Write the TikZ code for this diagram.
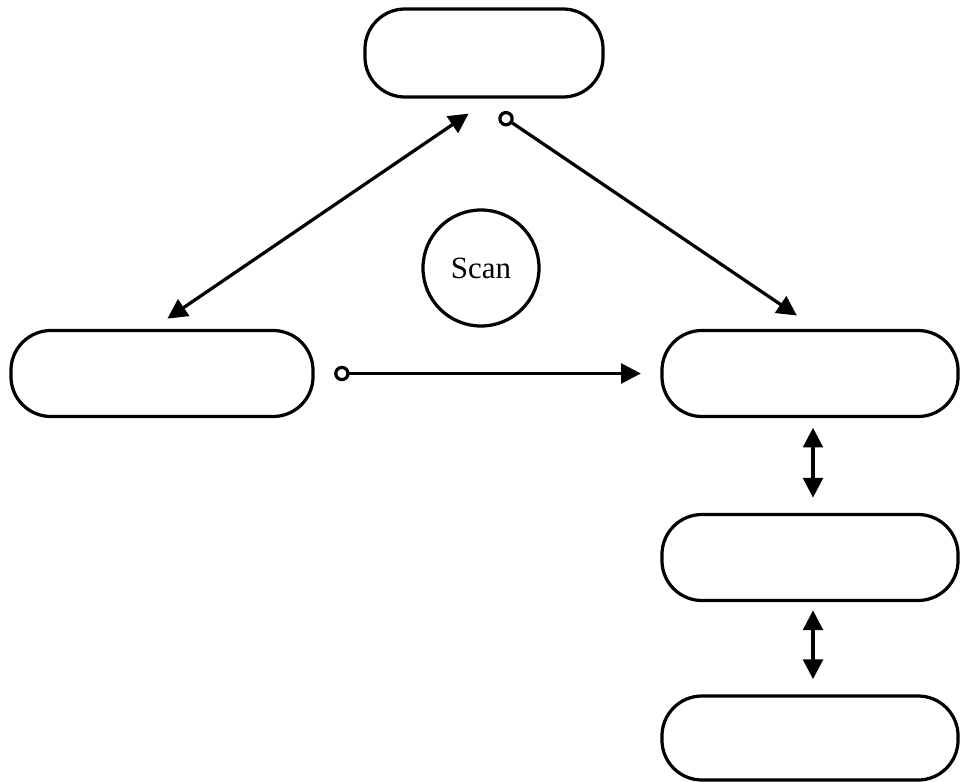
\documentclass[tikz,border=0pt]{standalone}
\usepackage{fontspec}
\setmainfont{Liberation Serif}
\usetikzlibrary{arrows.meta}
\begin{document}
\begin{tikzpicture}[x=0.025cm,y=-0.025cm,line width=2.3pt,
    box/.style={draw,rectangle,rounded corners=1cm,inner sep=0pt,outer sep=0pt},
    tri/.tip={Triangle[length=14pt,width=14pt]},
    ring/.tip={Circle[open,length=11pt,width=11pt]}]
            \useasboundingbox (0,0) rectangle (960,782);
            \node[box,minimum width=5.95cm,minimum height=2.2cm]  (top)  at (484,53)    {};
            \node[box,minimum width=7.55cm,minimum height=2.15cm] (left) at (162,373.5) {};
            \node[box,minimum width=7.4cm,minimum height=2.15cm]  (r1)   at (810,373.5) {};
            \node[box,minimum width=7.4cm,minimum height=2.15cm]  (r2)   at (810,557.5) {};
            \node[box,minimum width=7.4cm,minimum height=2.1cm]   (r3)   at (810,738)   {};
            \node[draw,circle,minimum size=2.9cm,inner sep=0pt,font=\fontsize{22}{26}\selectfont] (scan) at (481,268) {Scan};
            \draw[tri-tri,shorten <=15pt,shorten >=21pt] ([xshift=-0.3cm]left.north) -- ([xshift=0.225cm]top.south);
            \draw[ring-tri,shorten <=22pt,shorten >=19pt] ([xshift=-0.25cm]top.south) -- ([xshift=0.225cm]r1.north);
            \draw[ring-tri,shorten <=15pt,shorten >=15pt] (left.east) -- (r1.west);
            \draw[tri-tri,shorten <=8pt,shorten >=12pt] ([xshift=0.075cm]r1.south) -- ([xshift=0.075cm]r2.north);
            \draw[tri-tri,shorten <=7pt,shorten >=12pt] ([xshift=0.075cm]r2.south) -- ([xshift=0.075cm]r3.north);
        \end{tikzpicture}
\end{document}
